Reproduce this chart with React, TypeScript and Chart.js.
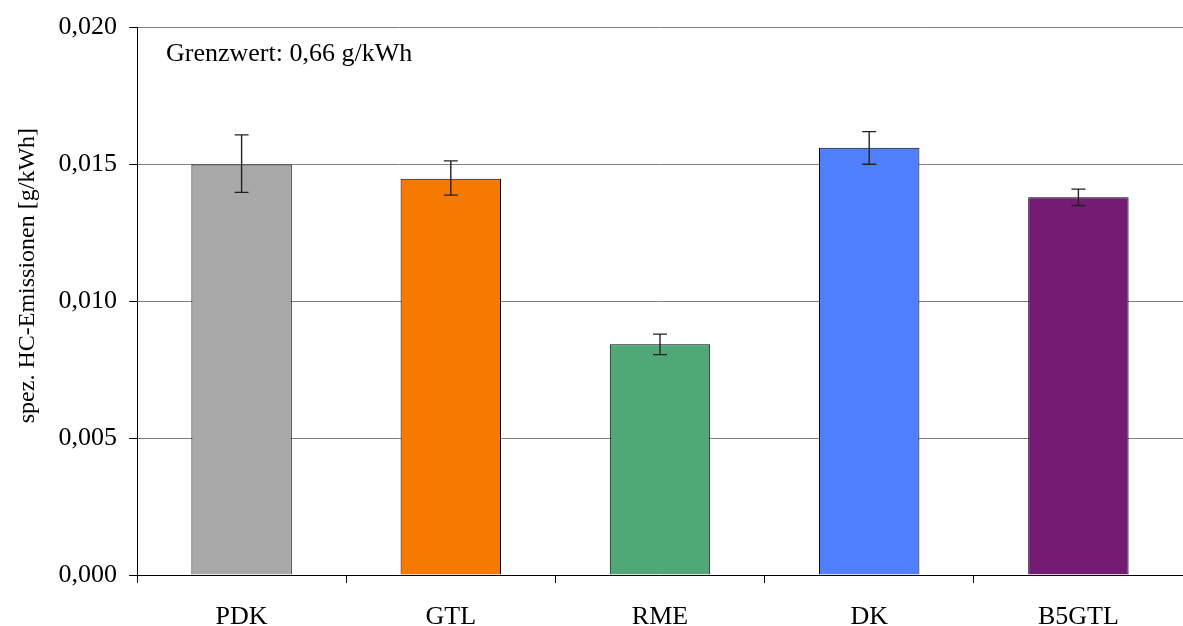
import React, { useEffect, useRef } from "react";
import { Chart, registerables } from "chart.js";

Chart.register(...registerables);

const categories = ["PDK", "GTL", "RME", "DK", "B5GTL"];
const values = [0.0150, 0.01448, 0.00843, 0.01561, 0.0138];
const errHigh = [0.01608, 0.01513, 0.0088, 0.0162, 0.0141];
const errLow = [0.01398, 0.01388, 0.00805, 0.01501, 0.0135];
const barColors = ["#A8A8A8", "#F77A00", "#50A878", "#5080FF", "#751A75"];
const yTicks = [0, 0.005, 0.01, 0.015, 0.02];
const yTitle = "spez. HC-Emissionen [g/kWh]";
const note = "Grenzwert: 0,66 g/kWh";

const FONT = "'Liberation Serif', 'Times New Roman', serif";

const errorBarPlugin = {
  id: "errorBars",
  afterDatasetsDraw(chart: any) {
    const ctx = chart.ctx;
    const meta = chart.getDatasetMeta(0);
    const y = chart.scales.y;
    ctx.save();
    ctx.strokeStyle = "#222";
    ctx.lineWidth = 1.4;
    meta.data.forEach((bar: any, i: number) => {
      const x = bar.x;
      const yh = y.getPixelForValue(errHigh[i]);
      const yl = y.getPixelForValue(errLow[i]);
      ctx.beginPath();
      ctx.moveTo(x, yh);
      ctx.lineTo(x, yl);
      ctx.moveTo(x - 7, yh);
      ctx.lineTo(x + 7, yh);
      ctx.moveTo(x - 7, yl);
      ctx.lineTo(x + 7, yl);
      ctx.stroke();
    });
    ctx.restore();
  },
};

const textPlugin = {
  id: "texts",
  afterDraw(chart: any) {
    const ctx = chart.ctx;
    const a = chart.chartArea;
    ctx.save();
    ctx.fillStyle = "#000";
    ctx.font = `26px ${FONT}`;
    ctx.textBaseline = "alphabetic";
    ctx.textAlign = "left";
    ctx.fillText(note, a.left + 29, a.top + 33);
    ctx.translate(28, a.top + 248);
    ctx.rotate(-Math.PI / 2);
    ctx.font = `24px ${FONT}`;
    ctx.textAlign = "center";
    ctx.textBaseline = "middle";
    ctx.fillText(yTitle, 0, 0);
    ctx.restore();
  },
};

export default function App() {
  const ref = useRef<HTMLCanvasElement>(null);
  useEffect(() => {
    document.body.style.margin = "0";
    const chart = new Chart(ref.current!, {
      type: "bar",
      data: {
        labels: categories,
        datasets: [
          {
            data: values,
            backgroundColor: barColors,
            borderColor: "#000",
            borderWidth: 1,
            categoryPercentage: 1,
            barPercentage: 0.48,
          },
        ],
      },
      options: {
        animation: false,
        responsive: false,
        maintainAspectRatio: false,
        layout: { padding: { top: 27, right: 0, left: 0, bottom: 0 } },
        plugins: { legend: { display: false }, tooltip: { enabled: false } },
        scales: {
          x: {
            grid: {
              display: true,
              drawOnChartArea: false,
              drawTicks: true,
              tickLength: 8,
              offset: true,
              color: "#000",
            },
            border: { color: "#000", width: 1 },
            ticks: {
              color: "#000",
              font: { family: FONT, size: 26 },
              padding: 19,
            },
            afterFit(scale: any) {
              scale.height = 51;
            },
          },
          y: {
            min: 0,
            max: 0.02,
            afterBuildTicks(scale: any) {
              scale.ticks = yTicks.map((v) => ({ value: v }));
            },
            grid: {
              color: "#808080",
              tickColor: "#000",
              tickLength: 8,
              lineWidth: 1,
            },
            border: { color: "#000", width: 1 },
            ticks: {
              color: "#000",
              font: { family: FONT, size: 26 },
              padding: 12,
              callback: (v: any) => Number(v).toFixed(3).replace(".", ","),
            },
            afterFit(scale: any) {
              scale.width = 137;
            },
          },
        },
      },
      plugins: [errorBarPlugin, textPlugin],
    });
    return () => chart.destroy();
  }, []);
  return (
    <div style={{ width: 1183, height: 626 }}>
      <canvas ref={ref} width={1183} height={626} style={{ display: "block" }} />
    </div>
  );
}
